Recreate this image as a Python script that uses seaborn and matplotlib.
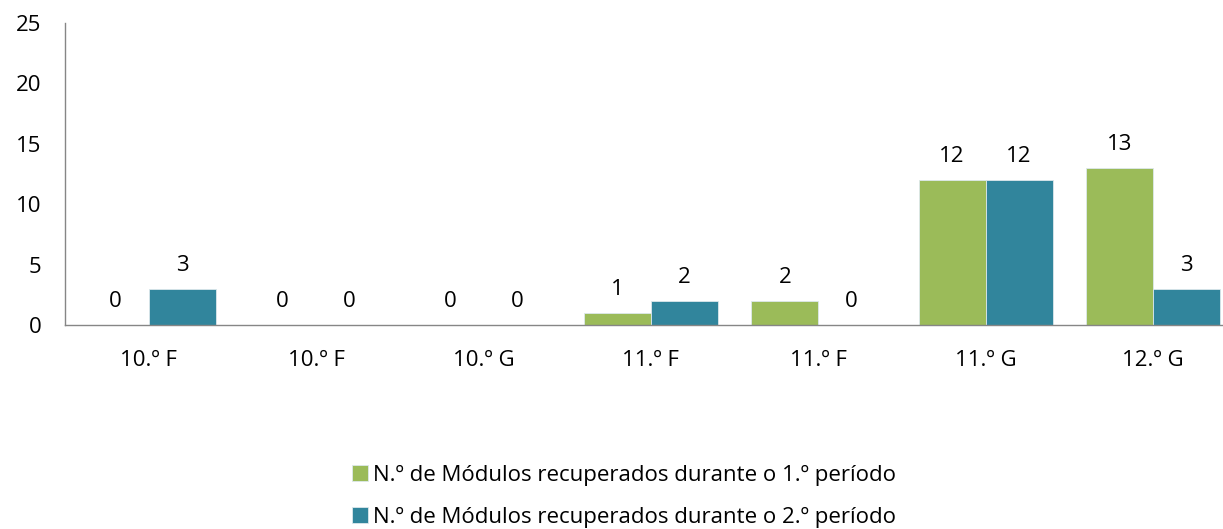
import numpy as np
import pandas as pd
import matplotlib
matplotlib.use("Agg")
import matplotlib.pyplot as plt
import seaborn as sns

# data
turmas = ["10.º F", "10.º F", "10.º G", "11.º F", "11.º F", "11.º G", "12.º G"]
periodo_1 = [0, 0, 0, 1, 2, 12, 13]
periodo_2 = [3, 0, 0, 2, 0, 12, 3]
series_names = ["N.º de Módulos recuperados durante o 1.º período",
                "N.º de Módulos recuperados durante o 2.º período"]
colors = ["#9BBB59", "#31859C"]

# long form table, one row per bar (index used because class names repeat)
df = pd.DataFrame({
    "idx": list(range(len(turmas))) * 2,
    "valor": periodo_1 + periodo_2,
    "serie": [series_names[0]] * len(turmas) + [series_names[1]] * len(turmas),
})

sns.set_style("white")
plt.rcParams["font.family"] = ["Open Sans", "DejaVu Sans"]
plt.rcParams["text.color"] = "black"
fs = 16

fig = plt.figure(figsize=(12.23, 5.29), dpi=100)
# plot area runs a little past the right edge, as in the original
ax = fig.add_axes([0.0532, 0.3856, 0.958, 0.571])

sns.barplot(data=df, x="idx", y="valor", hue="serie", palette=colors,
            width=0.8, saturation=1, ax=ax, legend=True,
            edgecolor="#DDE8EC", linewidth=0.6)

for cont in ax.containers:
    ax.bar_label(cont, fontsize=fs, padding=9.5, color="black")

ax.set_ylim(0, 25)
ax.set_yticks([0, 5, 10, 15, 20, 25])
ax.set_xlim(-0.5, len(turmas) - 0.5)
ax.set_xticks(range(len(turmas)))
ax.set_xticklabels(turmas)
ax.set_xticks(np.arange(-0.5, len(turmas)), minor=True)
ax.tick_params(axis="x", which="major", length=0, pad=18, labelsize=fs,
               labelcolor="black")
ax.tick_params(axis="x", which="minor", length=6.5, color="#868686", width=1)
ax.tick_params(axis="y", length=7.2, color="#868686", width=1, labelsize=fs,
               pad=10, labelcolor="black")
ax.set_xlabel("")
ax.set_ylabel("")

for s in ["top", "right"]:
    ax.spines[s].set_visible(False)
for s in ["left", "bottom"]:
    ax.spines[s].set_color("#868686")
    ax.spines[s].set_linewidth(1)

handles, labels = ax.get_legend_handles_labels()
ax.get_legend().remove()
fig.legend(handles, labels, loc="center", bbox_to_anchor=(0.51, 0.0614),
           ncol=1, frameon=False, fontsize=fs, handlelength=0.72,
           handleheight=0.72, handletextpad=0.22, labelspacing=0.95,
           borderpad=0)

fig.savefig("out.png", dpi=100)
